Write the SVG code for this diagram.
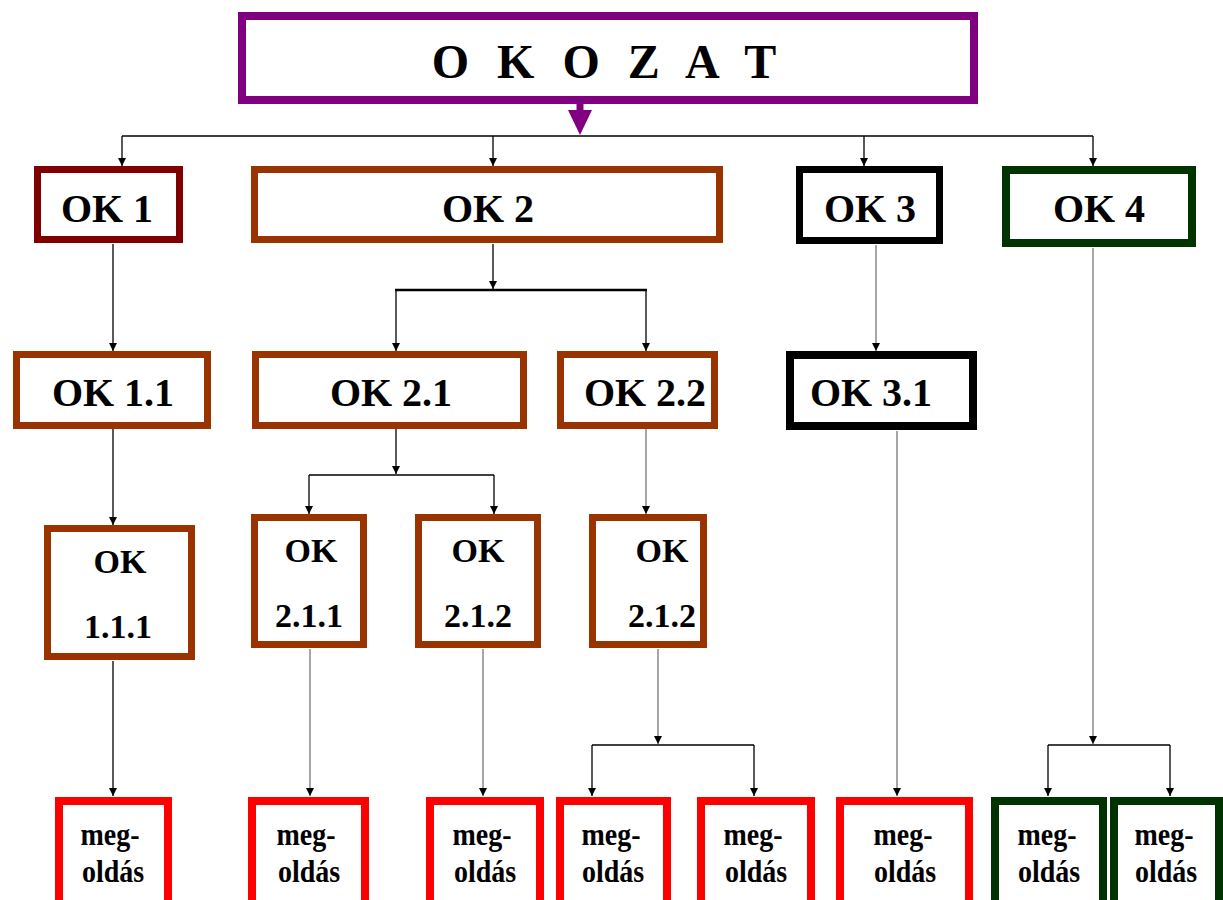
<svg xmlns="http://www.w3.org/2000/svg" width="1223" height="900" viewBox="0 0 1223 900">
  <defs>
    <marker id="arr" viewBox="0 0 10 10" refX="10" refY="5" markerWidth="8" markerHeight="8" markerUnits="userSpaceOnUse" orient="auto">
      <path d="M0,0 L10,5 L0,10 z" fill="#000"/>
    </marker>
    <style>
      .box { fill: #fff; }
      .lbl { font-weight: bold; fill: #000; text-anchor: middle; }
      .big { font-size: 40px; }
      .mid { font-size: 34px; }
      .sm { font-size: 28px; }
      .c { fill: none; stroke: #000; stroke-width: 1.3; }
      .g { fill: none; stroke: #777; stroke-width: 1.3; }
      .a { marker-end: url(#arr); }
      .brown { stroke: #993300; stroke-width: 7; }
      .red { stroke: #ff0000; stroke-width: 8; }
      .green { stroke: #003300; stroke-width: 8; }
      .black { stroke: #000; stroke-width: 7; }
    </style>
  </defs>
  <rect width="1223" height="900" fill="#fff"/>

  <!-- connectors -->
  <g id="connectors">
    <line x1="580" y1="104" x2="580" y2="113" stroke="#800080" stroke-width="7"/>
    <polygon points="568,110 592,110 580,135" fill="#800080"/>
    <line class="c" x1="122" y1="136" x2="1093" y2="136"/>
    <line class="c a" x1="122" y1="136" x2="122" y2="166"/>
    <line class="c a" x1="493" y1="136" x2="493" y2="166"/>
    <line class="c a" x1="864" y1="136" x2="864" y2="166"/>
    <line class="c a" x1="1093" y1="136" x2="1093" y2="166"/>

    <line class="c a" x1="113" y1="244" x2="113" y2="351"/>
    <line class="c a" x1="493" y1="244" x2="493" y2="289"/>
    <line x1="395" y1="290" x2="647" y2="290" stroke="#000" stroke-width="2.5"/>
    <line class="c a" x1="396" y1="290" x2="396" y2="351"/>
    <line class="c a" x1="646" y1="290" x2="646" y2="351"/>
    <line class="g a" x1="876" y1="245" x2="876" y2="351"/>
    <line class="g a" x1="1093" y1="248" x2="1093" y2="744"/>
    <line class="c" x1="1048" y1="745" x2="1170" y2="745"/>
    <line class="c a" x1="1048" y1="745" x2="1048" y2="796"/>
    <line class="c a" x1="1170" y1="745" x2="1170" y2="796"/>

    <line class="c a" x1="113" y1="429" x2="113" y2="525"/>
    <line class="c a" x1="396" y1="429" x2="396" y2="474"/>
    <line class="c" x1="309" y1="475" x2="494" y2="475"/>
    <line class="c a" x1="309" y1="475" x2="309" y2="514"/>
    <line class="c a" x1="494" y1="475" x2="494" y2="514"/>
    <line class="g a" x1="646" y1="429" x2="646" y2="514"/>

    <line class="c a" x1="113" y1="661" x2="113" y2="796"/>
    <line class="g a" x1="310" y1="649" x2="310" y2="796"/>
    <line class="g a" x1="483" y1="649" x2="483" y2="796"/>
    <line class="g a" x1="658" y1="649" x2="658" y2="744"/>
    <line class="c" x1="592" y1="745" x2="754" y2="745"/>
    <line class="c a" x1="592" y1="745" x2="592" y2="796"/>
    <line class="c a" x1="754" y1="745" x2="754" y2="796"/>
    <line class="g a" x1="897" y1="431" x2="897" y2="796"/>
  </g>

  <g font-family="Liberation Serif, DejaVu Serif, serif">
  <!-- root -->
  <g id="okozat">
    <rect class="box" x="242" y="16" width="732" height="84" stroke="#800080" stroke-width="8"/>
    <text class="lbl" x="608" y="78" font-size="48" letter-spacing="8">O K O Z A T</text>
  </g>

  <!-- level 1 -->
  <g id="ok1">
    <rect class="box" x="37.5" y="169.5" width="142" height="70" stroke="#7f0000" stroke-width="7"/>
    <text class="lbl big" x="107" y="222">OK 1</text>
  </g>
  <g id="ok2">
    <rect class="box brown" x="254.5" y="169.5" width="465" height="70"/>
    <text class="lbl big" x="488" y="222">OK 2</text>
  </g>
  <g id="ok3">
    <rect class="box black" x="799.5" y="169.5" width="140" height="71"/>
    <text class="lbl big" x="870" y="222">OK 3</text>
  </g>
  <g id="ok4">
    <rect class="box green" x="1006" y="170" width="186" height="73"/>
    <text class="lbl big" x="1099" y="222">OK 4</text>
  </g>

  <!-- level 2 -->
  <g id="ok1-1">
    <rect class="box brown" x="16.5" y="354.5" width="191" height="71"/>
    <text class="lbl big" x="113" y="406">OK 1.1</text>
  </g>
  <g id="ok2-1">
    <rect class="box brown" x="255.5" y="354.5" width="268" height="71"/>
    <text class="lbl big" x="391" y="406">OK 2.1</text>
  </g>
  <g id="ok2-2">
    <rect class="box brown" x="560.5" y="354.5" width="154" height="71"/>
    <text class="lbl big" x="645" y="406">OK 2.2</text>
  </g>
  <g id="ok3-1">
    <rect class="box" x="790" y="355" width="183" height="71" stroke="#000" stroke-width="8"/>
    <text class="lbl big" x="871" y="406">OK 3.1</text>
  </g>

  <!-- level 3 -->
  <g id="ok1-1-1">
    <rect class="box brown" x="47.5" y="528.5" width="144" height="128"/>
    <text class="lbl mid" x="120" y="573">OK</text>
    <text class="lbl mid" x="118" y="638">1.1.1</text>
  </g>
  <g id="ok2-1-1">
    <rect class="box brown" x="254.5" y="517.5" width="109" height="127"/>
    <text class="lbl mid" x="311" y="562">OK</text>
    <text class="lbl mid" x="309" y="627">2.1.1</text>
  </g>
  <g id="ok2-1-2">
    <rect class="box brown" x="418.5" y="517.5" width="119" height="127"/>
    <text class="lbl mid" x="478" y="562">OK</text>
    <text class="lbl mid" x="478" y="627">2.1.2</text>
  </g>
  <g id="ok2-1-2b">
    <rect class="box brown" x="592.5" y="517.5" width="111" height="127"/>
    <text class="lbl mid" x="662" y="562">OK</text>
    <text class="lbl mid" x="662" y="627">2.1.2</text>
  </g>

  <!-- solutions -->
  <g id="m1">
    <rect class="box red" x="59" y="801" width="109" height="110"/>
    <text class="lbl sm" transform="translate(110,845) scale(1,1.1)">meg-</text>
    <text class="lbl sm" transform="translate(113,882) scale(1,1.1)">oldás</text>
  </g>
  <g id="m2">
    <rect class="box red" x="252" y="801" width="113" height="110"/>
    <text class="lbl sm" transform="translate(306,845) scale(1,1.1)">meg-</text>
    <text class="lbl sm" transform="translate(309,882) scale(1,1.1)">oldás</text>
  </g>
  <g id="m3">
    <rect class="box red" x="430" y="801" width="110" height="110"/>
    <text class="lbl sm" transform="translate(482,845) scale(1,1.1)">meg-</text>
    <text class="lbl sm" transform="translate(485,882) scale(1,1.1)">oldás</text>
  </g>
  <g id="m4">
    <rect class="box red" x="560" y="801" width="107" height="110"/>
    <text class="lbl sm" transform="translate(611,845) scale(1,1.1)">meg-</text>
    <text class="lbl sm" transform="translate(613,882) scale(1,1.1)">oldás</text>
  </g>
  <g id="m5">
    <rect class="box red" x="701" y="801" width="110" height="110"/>
    <text class="lbl sm" transform="translate(753,845) scale(1,1.1)">meg-</text>
    <text class="lbl sm" transform="translate(756,882) scale(1,1.1)">oldás</text>
  </g>
  <g id="m6">
    <rect class="box red" x="840" y="801" width="129" height="110"/>
    <text class="lbl sm" transform="translate(903,845) scale(1,1.1)">meg-</text>
    <text class="lbl sm" transform="translate(905,882) scale(1,1.1)">oldás</text>
  </g>
  <g id="m7">
    <rect class="box green" x="995" y="801" width="108" height="110"/>
    <text class="lbl sm" transform="translate(1047,845) scale(1,1.1)">meg-</text>
    <text class="lbl sm" transform="translate(1049,882) scale(1,1.1)">oldás</text>
  </g>
  <g id="m8">
    <rect class="box green" x="1114" y="801" width="105" height="110"/>
    <text class="lbl sm" transform="translate(1164,845) scale(1,1.1)">meg-</text>
    <text class="lbl sm" transform="translate(1166,882) scale(1,1.1)">oldás</text>
  </g>
  </g>
</svg>
